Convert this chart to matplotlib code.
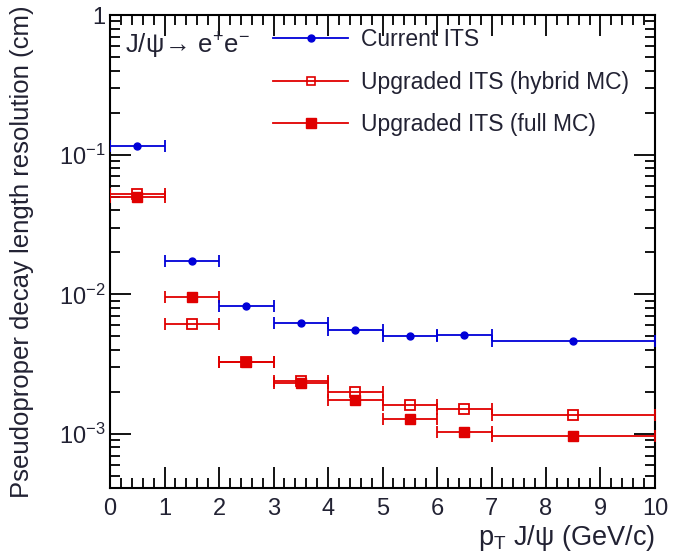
import matplotlib
matplotlib.use("Agg")
import matplotlib.pyplot as plt
from matplotlib.lines import Line2D
from matplotlib.ticker import FixedLocator, FixedFormatter, MultipleLocator
import numpy as np

plt.rcParams['font.family'] = ['Liberation Sans', 'DejaVu Sans']
plt.rcParams['mathtext.fontset'] = 'custom'
plt.rcParams['mathtext.rm'] = 'Liberation Sans'
plt.rcParams['mathtext.it'] = 'Liberation Sans:italic'
plt.rcParams['mathtext.bf'] = 'Liberation Sans:bold'

# pT bins (GeV/c)
bin_lo = [0, 1, 2, 3, 4, 5, 6, 7]
bin_hi = [1, 2, 3, 4, 5, 6, 7, 10]
bin_center = [0.5, 1.5, 2.5, 3.5, 4.5, 5.5, 6.5, 8.5]

# decay length resolution (cm)
current_its = [0.116, 0.0172, 0.0082, 0.00624, 0.00553, 0.00499, 0.0051, 0.00465]
upgraded_hybrid = [0.052, 0.00614, 0.0033, 0.00239, 0.00199, 0.00162, 0.00152, 0.00136]
upgraded_full = [0.050, 0.0096, 0.0033, 0.00231, 0.00174, 0.00128, 0.00104, 0.00096]

labels = ["Current ITS", "Upgraded ITS (hybrid MC)", "Upgraded ITS (full MC)"]

BLUE = '#0000d8'
RED = '#e00000'
TEXT = '#222233'

fig = plt.figure(figsize=(6.77, 5.59), dpi=100)
ax = fig.add_axes([0.1625, 0.127, 0.805, 0.846])

x = np.array(bin_center)
xerr = [x - np.array(bin_lo), np.array(bin_hi) - x]

ax.errorbar(x, upgraded_full, xerr=xerr, fmt='s', color=RED, ecolor=RED,
            mfc=RED, mec=RED, ms=7, elinewidth=1.3, capsize=4, capthick=1.3, zorder=3)
ax.errorbar(x, upgraded_hybrid, xerr=xerr, fmt='s', color=RED, ecolor=RED,
            mfc='none', mec=RED, mew=1.3, ms=7, elinewidth=1.3, capsize=4, capthick=1.3, zorder=4)
ax.errorbar(x, current_its, xerr=xerr, fmt='o', color=BLUE, ecolor=BLUE,
            mfc=BLUE, mec=BLUE, ms=5, elinewidth=1.3, capsize=4, capthick=1.3, zorder=5)

ax.set_yscale('log')
ax.set_xlim(0, 10)
ax.set_ylim(4.1e-4, 1.0)

ax.xaxis.set_major_locator(MultipleLocator(1))
ax.xaxis.set_minor_locator(MultipleLocator(0.2))
ax.yaxis.set_major_locator(FixedLocator([1e-3, 1e-2, 1e-1, 1]))
ax.yaxis.set_major_formatter(FixedFormatter([r'$10^{-3}$', r'$10^{-2}$', r'$10^{-1}$', '1']))
minor = [m * 10.0 ** e for e in (-4, -3, -2, -1) for m in range(2, 10)]
ax.yaxis.set_minor_locator(FixedLocator(minor))
ax.yaxis.set_minor_formatter(FixedFormatter([''] * len(minor)))

ax.tick_params(which='both', direction='in', top=True, right=True, width=1.3,
               labelsize=17, labelcolor=TEXT)
ax.tick_params(which='major', length=15)
ax.tick_params(which='minor', length=7)
ax.tick_params(axis='x', which='major', pad=7)
ax.tick_params(axis='y', which='major', pad=3)
for s in ax.spines.values():
    s.set_linewidth(1.5)

ax.set_ylabel("Pseudoproper decay length resolution (cm)", fontsize=18.5,
              labelpad=18, color=TEXT)
ax.set_xlabel(r"p$_{\mathrm{T}}$ J/$\mathrm{\psi}$ (GeV/c)", fontsize=19.5,
              loc='right', labelpad=2, color=TEXT)

ax.text(0.028, 0.935, r"J/$\mathrm{\psi}\!\rightarrow\,$e$^{+}$e$^{-}$", transform=ax.transAxes,
        fontsize=18.5, ha='left', va='center', color=TEXT)

handles = [
    Line2D([], [], color=BLUE, marker='o', ms=5, lw=1.3),
    Line2D([], [], color=RED, marker='s', ms=6, mfc='none', mew=1.2, lw=1.3),
    Line2D([], [], color=RED, marker='s', ms=7, lw=1.3),
]
ax.legend(handles, labels, loc='upper left', bbox_to_anchor=(0.262, 1.016), frameon=False,
          fontsize=16.5, handlelength=3.26, handletextpad=0.55, labelspacing=0.85,
          labelcolor=TEXT)

fig.savefig("out.png", dpi=100)
